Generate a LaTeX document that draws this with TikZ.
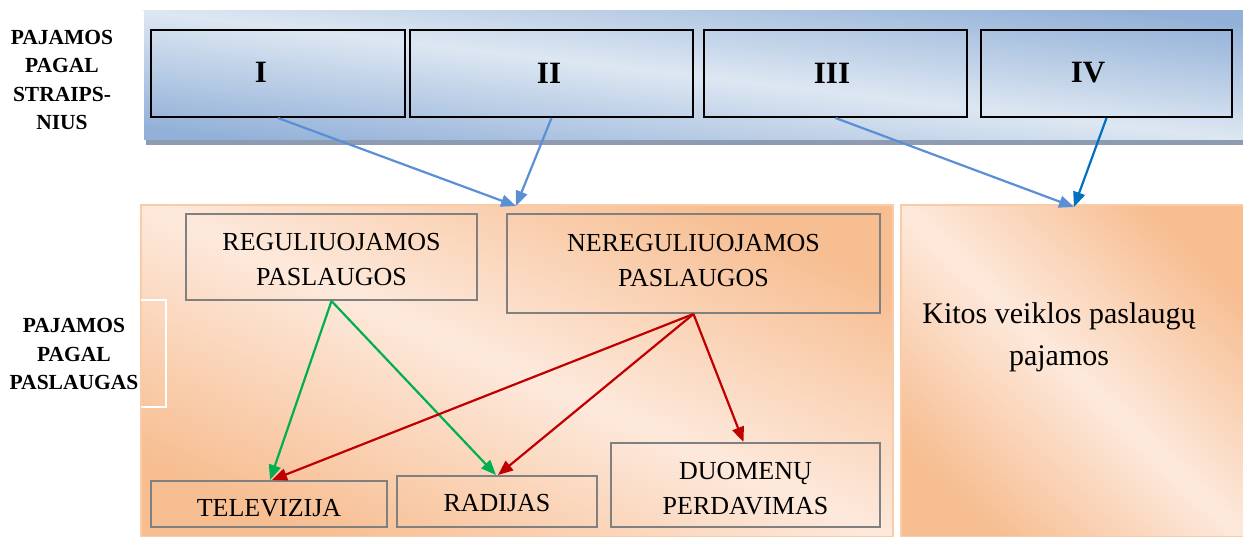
\documentclass[tikz,border=0pt]{standalone}
\usepackage{fontspec}
\setmainfont{Liberation Serif}
\usetikzlibrary{arrows.meta}
\definecolor{bandD}{HTML}{93B1D8}
\definecolor{bandL}{HTML}{DDE7F2}
\definecolor{bandshadow}{HTML}{8E9CB2}
\definecolor{orangeA}{HTML}{F7BE92}
\definecolor{orangeL}{HTML}{FDE9DC}
\definecolor{panelrim}{HTML}{F9CBA6}
\definecolor{boxgrey}{HTML}{808080}
\definecolor{arrblue}{HTML}{5A8FD6}
\definecolor{arrdblue}{HTML}{0070C0}
\definecolor{arrgreen}{HTML}{00B050}
\definecolor{arrred}{HTML}{C00000}
\tikzset{
  romanbox/.style={draw=black, line width=2pt, minimum height=87pt, inner sep=0pt},
  romantext/.style={font=\fontsize{31}{36}\selectfont\bfseries, inner sep=0pt},
  servbox/.style={draw=boxgrey, line width=2pt, align=center, inner sep=0pt,
    font=\fontsize{26}{35}\selectfont},
  servtext/.style={align=center, font=\fontsize{26}{35}\selectfont},
  sidelabel/.style={align=center, font=\fontsize{21.5}{28.5}\selectfont\bfseries},
  panel/.style={draw=panelrim, line width=2pt, left color=orangeA, right color=orangeA,
    middle color=orangeL, inner sep=0pt},
  conn/.style={line width=2.2pt, -{Triangle[length=15pt,width=12pt]}},
}
\begin{document}
\begin{tikzpicture}[x=1pt,y=-1pt]
\useasboundingbox (0,0) rectangle (1243,537);
% top band
\fill[bandshadow] (146,16) rectangle (1243,145);
\shade[left color=bandD, right color=bandD, middle color=bandL, shading angle=-6.7] (143,11) rectangle (1243,140);
\draw[white, line width=1.5pt] (143,11) -- (143,140);
\node[romanbox, minimum width=254pt] (b1) at (278,73.5) {};
\node[romanbox, minimum width=283pt] (b2) at (551.5,73.5) {};
\node[romanbox, minimum width=263pt] (b3) at (835.5,73.5) {};
\node[romanbox, minimum width=251pt] (b4) at (1106.5,73.5) {};
\node[romantext] (t1) at (261,72) {I};
\node[romantext] (t2) at (549,73) {II};
\node[romantext] (t3) at (832,73) {III};
\node[romantext] (t4) at (1088,73) {IV};
\node[sidelabel] (lab1) at (62,80) {PAJAMOS\\PAGAL\\STRAIPS-\\NIUS};
% panels
\node[panel, shading angle=-24, minimum width=752pt, minimum height=332pt] (lp) at (517,371) {};
\node[panel, shading angle=-44, minimum width=343pt, minimum height=332pt] (rp) at (1072,371) {};
\node[align=center, font=\fontsize{30}{42}\selectfont] (rpt) at (1059,337) {Kitos veiklos paslaugų\\pajamos};
\draw[white, line width=2pt] (141,300) -- (166,300) -- (166,407) -- (141,407);
\node[sidelabel] (lab2) at (74,354) {PAJAMOS\\PAGAL\\PASLAUGAS};
% service boxes
\node[servbox, minimum width=291pt, minimum height=86pt] (reg) at (331.5,257) {};
\node[servtext] (regt) at (331.5,260) {REGULIUOJAMOS\\PASLAUGOS};
\node[servbox, minimum width=373pt, minimum height=99pt] (nereg) at (693.5,263.5) {};
\node[servtext] (neregt) at (693.5,261) {NEREGULIUOJAMOS\\PASLAUGOS};
\node[servbox, minimum width=236pt, minimum height=46pt] (tv) at (269,504) {};
\node[servtext] (tvt) at (269,508) {TELEVIZIJA};
\node[servbox, minimum width=200pt, minimum height=51pt] (rad) at (497,501.5) {};
\node[servtext] (radt) at (497,503) {RADIJAS};
\node[servbox, minimum width=269pt, minimum height=84pt] (duo) at (745.5,485) {};
\node[servtext] (duot) at (745.5,489) {DUOMENŲ\\PERDAVIMAS};
% targets
\coordinate (tA) at (516,206);
\coordinate (tB) at (1074,207);
% arrows
\draw[conn, arrblue] (b1.south) -- (tA);
\draw[conn, arrblue] (b2.south) -- (tA);
\draw[conn, arrblue] (b3.south) -- (tB);
\draw[conn, arrdblue] (b4.south) -- (tB);
\draw[conn, arrgreen] (reg.south) -- ([xshift=1pt]tv.north);
\draw[conn, arrgreen] (reg.south) -- ([xshift=-1pt]rad.north);
\draw[conn, arrred] (nereg.south) -- ([xshift=3pt]tv.north);
\draw[conn, arrred] (nereg.south) -- ([xshift=1pt]rad.north);
\draw[conn, arrred] (nereg.south) -- ([xshift=-2pt]duo.north);
\end{tikzpicture}
\end{document}
